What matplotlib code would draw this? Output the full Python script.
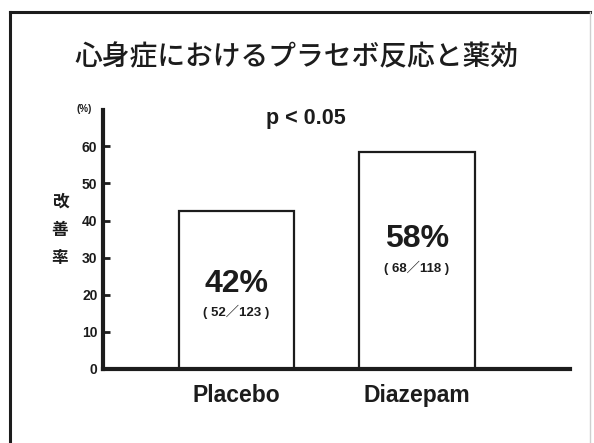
import matplotlib
matplotlib.use('Agg')
import matplotlib.pyplot as plt
from matplotlib.lines import Line2D

plt.rcParams['font.family'] = ['Liberation Sans', 'Noto Sans CJK JP', 'DejaVu Sans']

# Datos del gráfico
categorias = ['Placebo', 'Diazepam']
porcentajes = [42.5, 58.5]
etiquetas_pct = ['42%', '58%']
etiquetas_n = ['( 52／123 )', '( 68／118 )']
ticks_y = [0, 10, 20, 30, 40, 50, 60]
titulo = '心身症におけるプラセボ反応と薬効'
eje_y = '改\n善\n率'
p_valor = 'p < 0.05'

W, H = 594, 443
fig = plt.figure(figsize=(W / 100, H / 100), dpi=100)
col = '#1c1c1c'

# Marco exterior
fig.add_artist(Line2D([10 / W, 590 / W], [1 - 12 / H, 1 - 12 / H], color=col, lw=2.2))
fig.add_artist(Line2D([10 / W, 10 / W], [0, 1 - 12 / H], color=col, lw=2.2))
fig.add_artist(Line2D([590 / W, 590 / W], [0, 1 - 12 / H], color='#cfcfcf', lw=1))

ax = fig.add_axes([103 / W, 1 - 369 / H, (570 - 103) / W, (369 - 110) / H])
x = [0, 1]
ax.bar(x, porcentajes, width=0.64, color='white', edgecolor=col, linewidth=1.6, zorder=2)
ax.set_xlim(-0.74, 1.848)
ax.set_ylim(0, 69.8)

for s in ['top', 'right']:
    ax.spines[s].set_visible(False)
for s in ['left', 'bottom']:
    ax.spines[s].set_linewidth(3)
    ax.spines[s].set_color(col)
    ax.spines[s].set_zorder(3)

ax.set_yticks(ticks_y)
ax.set_yticklabels([str(t) for t in ticks_y], fontsize=10, fontweight='bold', color=col)
ax.tick_params(axis='y', direction='in', length=5, width=2, color=col, pad=4)
ax.set_xticks(x)
ax.set_xticklabels(categorias, fontsize=16.5, fontweight='bold', color=col)
ax.tick_params(axis='x', length=0, pad=11)

# Valores dentro de las barras
ax.text(0, 22.8, etiquetas_pct[0], ha='center', va='center', fontsize=23, fontweight='bold', color=col)
ax.text(0, 15.5, etiquetas_n[0], ha='center', va='center', fontsize=9.5, fontweight='bold', color=col)
ax.text(1, 35.0, etiquetas_pct[1], ha='center', va='center', fontsize=23, fontweight='bold', color=col)
ax.text(1, 27.2, etiquetas_n[1], ha='center', va='center', fontsize=9.5, fontweight='bold', color=col)

ax.text(0.385, 67.5, p_valor, ha='center', va='center', fontsize=15.5, fontweight='bold', color=col)
ax.text(-0.04, 70.2, '(%)', transform=ax.get_yaxis_transform(), ha='center', va='center',
        fontsize=7, fontweight='bold', color=col)

fig.text(60 / W, 1 - 230 / H, eje_y, ha='center', va='center', fontsize=12, fontweight='bold',
         color=col, linespacing=1.75, family=['Noto Sans CJK JP'])
fig.text(296.5 / W, 1 - 57 / H, titulo, ha='center', va='center', fontsize=20, fontweight='medium',
         color=col, family=['Noto Sans CJK JP'])

fig.savefig('out.png', dpi=100, facecolor='white')
